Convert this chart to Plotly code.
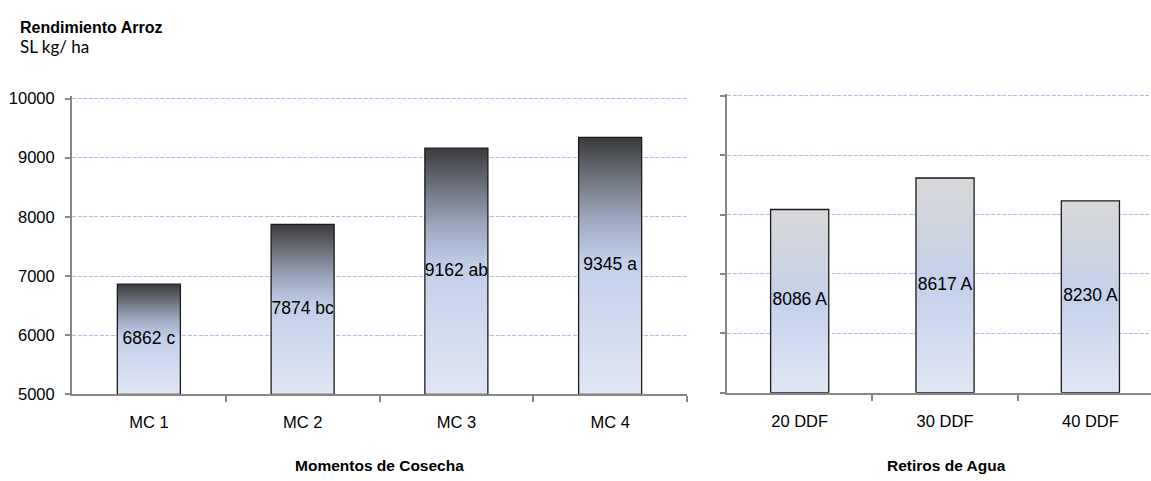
import plotly.graph_objects as go

W, H = 1151, 481

# ---- data ----
mc_categories = ["MC 1", "MC 2", "MC 3", "MC 4"]
mc_values = [6862, 7874, 9162, 9345]
mc_letters = ["c", "bc", "ab", "a"]

ra_categories = ["20 DDF", "30 DDF", "40 DDF"]
ra_values = [8086, 8617, 8230]
ra_letters = ["A", "A", "A"]

y_ticks = [5000, 6000, 7000, 8000, 9000, 10000]
y_min, y_max = 5000, 10000

title_text = "Rendimiento Arroz"
subtitle_text = "SL kg/ ha"
left_axis_title = "Momentos de Cosecha"
right_axis_title = "Retiros de Agua"

# ---- styles ----
left_scale = [[0.0, "#e0e6f4"], [0.3, "#cfd9ee"], [0.52, "#c2cfea"],
              [0.68, "#9ea9c0"], [0.84, "#6e737d"], [1.0, "#3b3b3d"]]
right_scale = [[0.0, "#e0e6f4"], [0.3, "#cfd9ef"], [0.5, "#c4d1ec"],
               [0.75, "#cdd3e0"], [1.0, "#d8d8d9"]]
FONT = "Liberation Sans, Arial, sans-serif"
AXIS_GRAY = "#878787"
GRID = "#a9c1ec"
PAD = 40  # small headroom so the top gridline is drawn


def px_x(p):
    return p / W


def px_y(p):
    return 1 - p / H


fig = go.Figure()


def add_bars(values, letters, scale, xref, yref, width):
    for i, v in enumerate(values):
        x0, x1 = i - width / 2, i + width / 2
        fig.add_trace(go.Scatter(
            x=[x0, x0, x1, x1, x0], y=[y_min, v, v, y_min, y_min],
            mode="lines", fill="toself",
            fillgradient=dict(type="vertical", colorscale=scale),
            line=dict(color="#1a1a1a", width=1.3),
            xaxis=xref, yaxis=yref, showlegend=False, hoverinfo="skip"))
    fig.add_trace(go.Scatter(
        x=list(range(len(values))),
        y=[(v + y_min) / 2 for v in values],
        text=[f"{v} {l}" for v, l in zip(values, letters)],
        mode="text", textfont=dict(family=FONT, size=17.5, color="#000"),
        xaxis=xref, yaxis=yref, showlegend=False, hoverinfo="skip"))


add_bars(mc_values, mc_letters, left_scale, "x", "y", 0.41)
add_bars(ra_values, ra_letters, right_scale, "x2", "y2", 0.40)

common_x = dict(showgrid=False, zeroline=False, showline=True,
                linecolor=AXIS_GRAY, linewidth=2, ticks="",
                tickfont=dict(family=FONT, size=16.5, color="#000"),
                ticklabelstandoff=12, fixedrange=True)
common_y = dict(range=[y_min, y_max + PAD], tickvals=y_ticks, tickformat="d",
                showgrid=True,
                gridcolor=GRID, griddash="4px,1.5px", gridwidth=1,
                zeroline=False, showline=True, linecolor=AXIS_GRAY,
                linewidth=2, ticks="outside", ticklen=5,
                tickcolor=AXIS_GRAY, tickwidth=2, fixedrange=True)

fig.update_layout(
    width=W, height=H, margin=dict(l=0, r=0, t=0, b=0),
    paper_bgcolor="white", plot_bgcolor="white",
    xaxis=dict(common_x, domain=[px_x(72), px_x(687)], range=[-0.5, 3.5],
               tickmode="array", tickvals=list(range(len(mc_categories))),
               ticktext=mc_categories, anchor="y",
               minor=dict(tickmode="array", tickvals=[0.5, 1.5, 2.5, 3.5],
                          ticks="outside", ticklen=6, tickcolor=AXIS_GRAY,
                          tickwidth=1.5, showgrid=False)),
    yaxis=dict(common_y, domain=[px_y(400.7), px_y(92.25)], anchor="x",
               tickfont=dict(family=FONT, size=16.5, color="#000"),
               ticklabelstandoff=7),
    xaxis2=dict(common_x, domain=[px_x(727), 1.0], range=[-0.5, 2.417],
                tickmode="array", tickvals=list(range(len(ra_categories))),
                ticktext=ra_categories, anchor="y2",
                minor=dict(tickmode="array", tickvals=[0.5, 1.5],
                           ticks="outside", ticklen=6, tickcolor=AXIS_GRAY,
                           tickwidth=1.5, showgrid=False)),
    yaxis2=dict(common_y, domain=[px_y(399), px_y(89.5)], anchor="x2",
                showticklabels=False),
)

annots = [
    dict(text=f"<b>{title_text}</b>", x=px_x(18), y=px_y(10.5), xanchor="left",
         yanchor="top", font=dict(family=FONT, size=16, color="#000")),
    dict(text=subtitle_text, x=px_x(18), y=px_y(28), xanchor="left",
         yanchor="top", font=dict(family="Lato, sans-serif", size=17, color="#000")),
    dict(text=f"<b>{left_axis_title}</b>", x=px_x(379.5), y=px_y(463),
         xanchor="center", yanchor="top",
         font=dict(family=FONT, size=15.5, color="#000")),
    dict(text=f"<b>{right_axis_title}</b>", x=px_x(946), y=px_y(463),
         xanchor="center", yanchor="top",
         font=dict(family=FONT, size=15.5, color="#000")),
]
for a in annots:
    fig.add_annotation(a, xref="paper", yref="paper", showarrow=False)

fig.write_html("out.html")
